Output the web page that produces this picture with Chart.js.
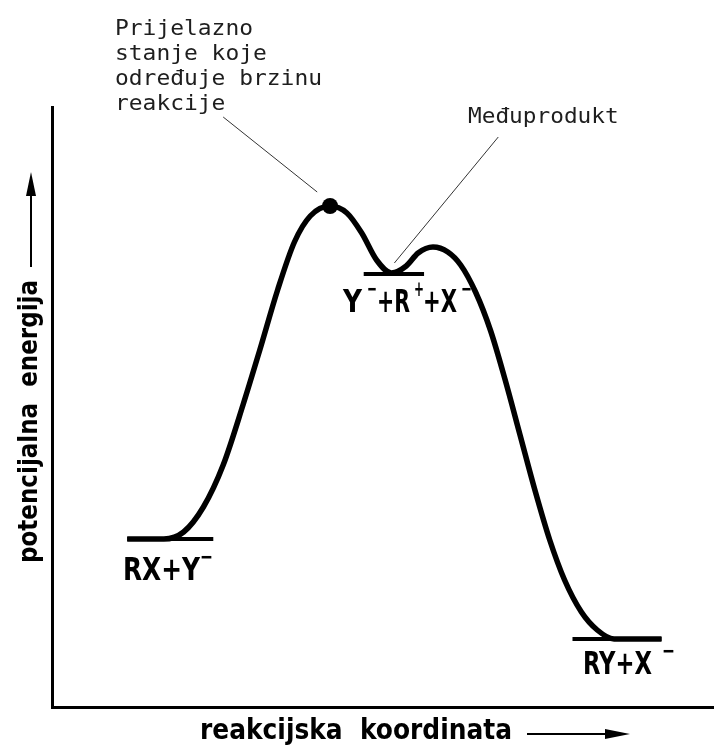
<!DOCTYPE html>
<html>
<head>
<meta charset="utf-8">
<script src="https://cdn.jsdelivr.net/npm/chart.js@4.4.1/dist/chart.umd.min.js"></script>
<style>
  html, body { margin: 0; padding: 0; background: #fff; }
  #wrap { width: 721px; height: 747px; }
</style>
</head>
<body>
<div id="wrap"><canvas id="chart" width="721" height="747"></canvas></div>
<script>
// reaction coordinate (x) and potential energy (y)
const pathX = [76, 113, 133, 153, 173, 193, 210, 228, 245, 261, 281, 298, 313, 328, 343, 358, 370, 385, 400, 413, 428, 443, 458, 473, 488, 503, 518, 535, 551, 568, 616];
const pathE = [168, 168, 175, 200, 242, 302, 357, 417, 465, 491, 501, 494, 474, 447, 434, 441, 454, 460, 455, 442, 415, 377, 327, 272, 217, 167, 127, 95, 77, 68, 68];

// energy levels: [x start, x end, energy]
const levelNames = ['RX+Y-', 'Y-+R++X-', 'RY+X-'];
const levelX1 = [76, 315, 526];
const levelX2 = [163, 376, 616];
const levelE = [168, 433, 68];

// transition state marker
const tsX = [281];
const tsE = [501];

// leader lines from the notes to the curve
const leader1X = [173, 268];
const leader1E = [590, 515];
const leader2X = [451, 346];
const leader2E = [570, 444];

const xTitle = 'reakcijska  koordinata';
const yTitle = 'potencijalna  energija';
const noteTS = ['Prijelazno', 'stanje koje', 'određuje brzinu', 'reakcije'];
const noteMid = 'Međuprodukt';

const pts = (xs, ys) => xs.map((x, i) => ({ x: x, y: ys[i] }));

const datasets = [
  {
    data: pts(pathX, pathE),
    borderColor: '#000',
    borderWidth: 5.5,
    pointRadius: 0,
    cubicInterpolationMode: 'monotone',
    fill: false
  }
];
levelE.forEach((e, i) => {
  datasets.push({
    label: levelNames[i],
    data: [{ x: levelX1[i], y: e }, { x: levelX2[i], y: e }],
    borderColor: '#000',
    borderWidth: 4,
    pointRadius: 0,
    tension: 0
  });
});
datasets.push({
  data: pts(leader1X, leader1E),
  borderColor: '#333',
  borderWidth: 1,
  pointRadius: 0,
  tension: 0
});
datasets.push({
  data: pts(leader2X, leader2E),
  borderColor: '#333',
  borderWidth: 1,
  pointRadius: 0,
  tension: 0
});
datasets.push({
  data: pts(tsX, tsE),
  showLine: false,
  pointRadius: 8,
  pointBackgroundColor: '#000',
  pointBorderColor: '#000',
  pointBorderWidth: 0
});

const sansFont = "'DejaVu Sans Condensed', 'DejaVu Sans', sans-serif";
const monoFont = "'DejaVu Sans Mono', 'Liberation Mono', monospace";

// draw text squeezed/stretched to a given width
function fitText(ctx, text, x, y, w, font) {
  ctx.font = font;
  const m = ctx.measureText(text).width;
  ctx.save();
  ctx.translate(x, y);
  ctx.scale(w / m, 1);
  ctx.fillText(text, 0, 0);
  ctx.restore();
}

const textPlugin = {
  id: 'texts',
  afterDraw(chart) {
    const ctx = chart.ctx;
    ctx.save();
    ctx.fillStyle = '#000';
    ctx.strokeStyle = '#000';
    ctx.textAlign = 'left';
    ctx.textBaseline = 'alphabetic';

    const big = 'bold 32px ' + sansFont;
    const sup = 'bold 22px ' + sansFont;

    // RX+Y-
    fitText(ctx, 'RX+Y', 123, 580, 77, big);
    fitText(ctx, '−', 200, 564, 13, sup);
    // Y- + R+ + X-
    fitText(ctx, 'Y', 343, 312, 19, big);
    fitText(ctx, '−', 367, 296, 10, sup);
    fitText(ctx, '+R', 377, 312, 33, big);
    fitText(ctx, '+', 414, 296, 10, sup);
    fitText(ctx, '+X', 423, 312, 34, big);
    fitText(ctx, '−', 461, 296, 11, sup);
    // RY+X-
    fitText(ctx, 'RY+X', 583, 674, 69, big);
    fitText(ctx, '−', 662, 658, 13, sup);

    // notes (monospace, ~13.8px per character)
    ctx.fillStyle = '#1e1e1e';
    const mono = '21px ' + monoFont;
    noteTS.forEach((t, i) => fitText(ctx, t, 115, 35 + i * 25, t.length * 13.8, mono));
    fitText(ctx, noteMid, 468, 123, noteMid.length * 13.7, mono);

    // axis titles
    ctx.fillStyle = '#000';
    fitText(ctx, xTitle, 200, 739, 312, 'bold 29px ' + sansFont);
    ctx.save();
    ctx.translate(37, 563);
    ctx.rotate(-Math.PI / 2);
    fitText(ctx, yTitle, 0, 0, 283, 'bold 27px ' + sansFont);
    ctx.restore();

    // arrows next to the titles
    ctx.lineWidth = 2;
    ctx.beginPath();
    ctx.moveTo(527, 734);
    ctx.lineTo(612, 734);
    ctx.stroke();
    ctx.beginPath();
    ctx.moveTo(630, 734);
    ctx.lineTo(605, 729);
    ctx.lineTo(605, 739);
    ctx.closePath();
    ctx.fill();

    ctx.beginPath();
    ctx.moveTo(31, 267);
    ctx.lineTo(31, 190);
    ctx.stroke();
    ctx.beginPath();
    ctx.moveTo(31, 172);
    ctx.lineTo(26, 196);
    ctx.lineTo(36, 196);
    ctx.closePath();
    ctx.fill();
    ctx.restore();
  }
};

new Chart(document.getElementById('chart'), {
  type: 'line',
  data: { datasets: datasets },
  options: {
    responsive: false,
    animation: false,
    clip: false,
    layout: { padding: { left: 52, top: 107, right: 1, bottom: 40 } },
    plugins: { legend: { display: false }, tooltip: { enabled: false } },
    scales: {
      x: {
        type: 'linear',
        min: 0,
        max: 668,
        grid: { display: false, drawTicks: false },
        ticks: { display: false },
        border: { display: true, color: '#000', width: 3 }
      },
      y: {
        type: 'linear',
        min: 0,
        max: 600,
        grid: { display: false, drawTicks: false },
        ticks: { display: false },
        border: { display: true, color: '#000', width: 3 }
      }
    }
  },
  plugins: [textPlugin]
});
</script>
</body>
</html>
